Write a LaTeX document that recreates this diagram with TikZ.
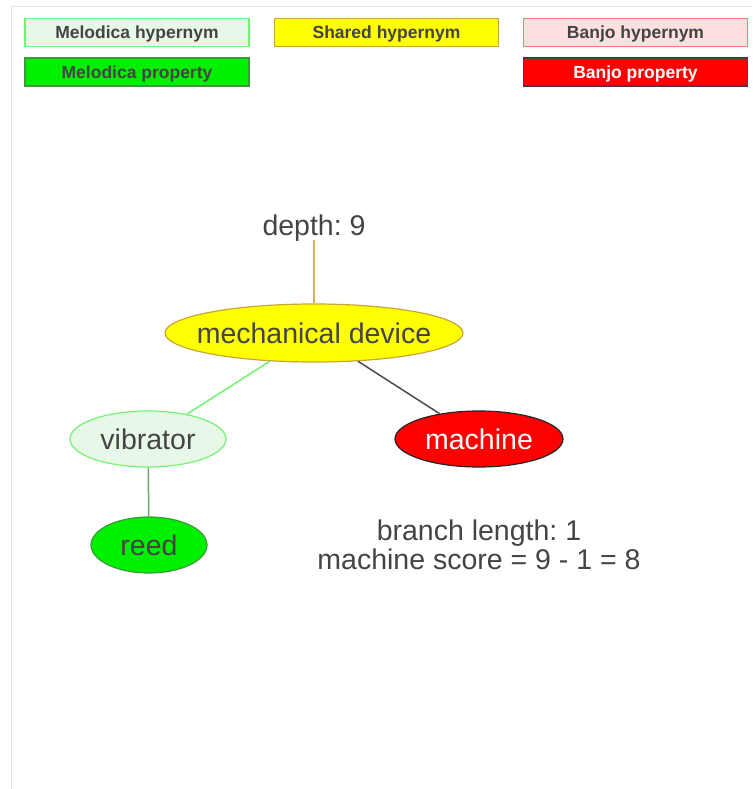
\documentclass[tikz,border=0pt]{standalone}
\usepackage{fontspec}
\setmainfont{Liberation Sans}
\usetikzlibrary{shapes.geometric}
\frenchspacing
\definecolor{txt}{HTML}{444444}
\definecolor{frame}{HTML}{E4E4E4}
\definecolor{melhyp}{HTML}{E8F8E8}
\definecolor{melhypline}{HTML}{72F472}
\definecolor{melprop}{HTML}{00F000}
\definecolor{melpropline}{HTML}{3C9A3C}
\definecolor{shared}{HTML}{FFFF00}
\definecolor{sharedline}{HTML}{C9A53A}
\definecolor{banhyp}{HTML}{FFE0E0}
\definecolor{banhypline}{HTML}{FF7A7A}
\definecolor{banprop}{HTML}{FF0000}
\definecolor{depthline}{HTML}{D8B060}
\definecolor{reedline}{HTML}{6FA76F}
% word ellipses keep a fixed size: their text is set in a box of no width
\newcommand{\wordtext}[1]{\makebox[0pt]{#1}}
\tikzset{
  legendbox/.style={rectangle, draw, line width=1.6pt, minimum width=224pt, minimum height=28pt,
    inner sep=0pt, text height=12.7pt, text depth=0pt,
    font=\fontsize{17.5}{19}\selectfont\bfseries, text=txt},
  wordnode/.style={ellipse, draw, line width=1.2pt, inner sep=0pt, font=\fontsize{28.5}{30}\selectfont, text=txt},
  plain/.style={font=\fontsize{28.5}{29}\selectfont, text=txt, inner sep=0pt},
  edge/.style={line width=1.5pt}
}
\begin{document}
\begin{tikzpicture}[x=1pt,y=-1pt]
\useasboundingbox[fill=white] (0,0) rectangle (753,789);
% page frame
\draw[frame, line width=1pt] (11,789) -- (11,6.5) -- (753,6.5);

% legend
\node[legendbox, fill=melhyp, draw=melhypline] (lmh) at (137,32.5) {Melodica hypernym};
\node[legendbox, fill=shared, draw=sharedline] (lsh) at (386.5,32.5) {Shared hypernym};
\node[legendbox, fill=banhyp, draw=banhypline] (lbh) at (635.5,32.5) {Banjo hypernym};
\node[legendbox, fill=melprop, draw=melpropline] (lmp) at (137,72) {Melodica property};
\node[legendbox, fill=banprop, draw=black!75, text=white] (lbp) at (635.5,72) {Banjo property};

% tree
\node[plain] (depth) at (314,228) {depth: 9};
\node[wordnode, fill=shared, draw=sharedline, minimum width=298pt, minimum height=58pt] (mech) at (314,333) {\wordtext{mechanical device}};
\node[wordnode, fill=melhyp, draw=melhypline, minimum width=156pt, minimum height=56pt] (vib) at (148,439) {\wordtext{vibrator}};
\node[wordnode, fill=banprop, draw=black!85, text=white, minimum width=168pt, minimum height=56pt] (mach) at (479,439) {\wordtext{machine}};
\node[wordnode, fill=melprop, draw=melpropline, minimum width=116pt, minimum height=56pt] (reed) at (149,545) {\wordtext{reed}};

\coordinate (dtop) at (314,240);
\draw[edge, depthline] (dtop) -- (mech.north);
\draw[edge, melhypline] (mech) -- (vib);
\draw[edge, black!70] (mech) -- (mach);
\draw[edge, reedline] (vib) -- (reed);

\node[plain, align=center] (score) at (479,545) {branch length: 1\\machine score = 9 - 1 = 8};
\end{tikzpicture}
\end{document}
